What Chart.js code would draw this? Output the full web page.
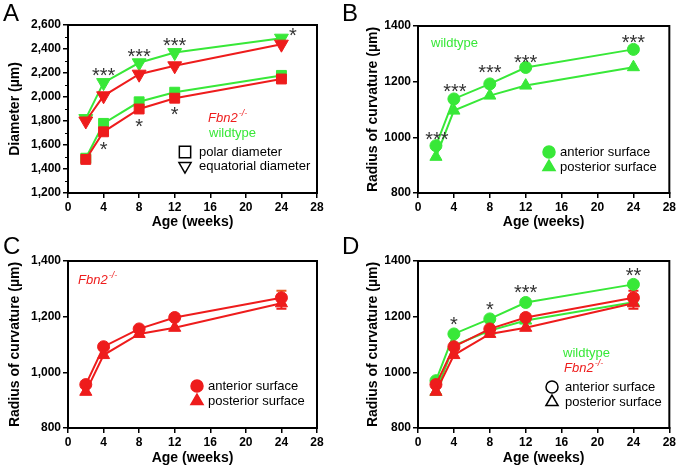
<!DOCTYPE html>
<html lang="en">
<head>
    <meta charset="UTF-8">
    <title>Diameter and radius of curvature</title>
    <style>
        body { margin: 0; background: #fff; }
        .panel { position: absolute; }
        .lbl {
            position: absolute;
            font-family: "Liberation Sans", Arial, sans-serif;
            font-size: 24px;
            color: #000;
        }
    </style>
</head>
<body>
    <div class="panel" style="left:0;top:0;width:339px;height:235px"><canvas id="chartA"></canvas></div>
    <div class="panel" style="left:339px;top:0;width:339px;height:235px"><canvas id="chartB"></canvas></div>
    <div class="panel" style="left:0;top:235px;width:339px;height:236px"><canvas id="chartC"></canvas></div>
    <div class="panel" style="left:339px;top:235px;width:339px;height:236px"><canvas id="chartD"></canvas></div>
    <div class="lbl" style="left:3px;top:-1px">A</div>
    <div class="lbl" style="left:342px;top:-1px">B</div>
    <div class="lbl" style="left:3px;top:232px">C</div>
    <div class="lbl" style="left:342px;top:232px">D</div>

    <script src="https://cdn.jsdelivr.net/npm/chart.js"></script>
    <script>
        // ages in weeks
        const weeks = [2, 4, 8, 12, 24];

        // panel A: diameters (um)
        const polarWT = [1490, 1780, 1960, 2040, 2180];
        const polarKO = [1480, 1710, 1900, 1990, 2150];
        const equatWT = [1820, 2120, 2285, 2370, 2490];
        const equatKO = [1800, 2010, 2190, 2260, 2440];

        // panels B-D: radius of curvature (um)
        const anteriorWT = [970, 1138, 1192, 1251, 1316];
        const posteriorWT = [930, 1096, 1150, 1186, 1252];
        const anteriorKO = [956, 1092, 1156, 1197, 1268];
        const posteriorKO = [930, 1062, 1138, 1160, 1248];
        const anteriorKOerr = [0, 0, 0, 0, 25];
        const posteriorKOerr = [0, 0, 0, 0, 20];

        const xTicks = [0, 4, 8, 12, 16, 20, 24, 28];

        // significance marks (x in weeks, y in data units)
        const starsA = [
            { x: 4, y: 2210, t: '***' }, { x: 8, y: 2375, t: '***' },
            { x: 12, y: 2460, t: '***' }, { x: 25.3, y: 2545, t: '*' },
            { x: 4, y: 1600, t: '*' }, { x: 8, y: 1790, t: '*' }, { x: 12, y: 1890, t: '*' }
        ];
        const starsB = [
            { x: 2.1, y: 1008, t: '***' }, { x: 4.1, y: 1179, t: '***' },
            { x: 8, y: 1247, t: '***' }, { x: 12, y: 1284, t: '***' }, { x: 24, y: 1356, t: '***' }
        ];
        const starsD = [
            { x: 4, y: 1188, t: '*' }, { x: 8, y: 1241, t: '*' },
            { x: 12, y: 1302, t: '***' }, { x: 24, y: 1364, t: '**' }
        ];

        const GREEN = '#38e838';
        const RED = '#ee1c1c';
        const FONT = '"Liberation Sans", Arial, sans-serif';

        const pts = (ys) => weeks.map((w, i) => ({ x: w, y: ys[i] }));

        function series(ys, color, style, radius, rotation) {
            return {
                data: pts(ys),
                borderColor: color,
                backgroundColor: color,
                borderWidth: 2,
                pointStyle: style,
                pointRadius: radius,
                pointRotation: rotation || 0,
                pointBorderWidth: 1,
                pointBorderColor: color,
                pointBackgroundColor: color,
                tension: 0
            };
        }

        // box around plot area + optional minor ticks
        const framePlugin = {
            id: 'frame',
            afterDraw(chart) {
                const { ctx, chartArea: a } = chart;
                ctx.save();
                ctx.strokeStyle = '#000';
                ctx.lineWidth = 2;
                ctx.strokeRect(a.left, a.top, a.right - a.left, a.bottom - a.top);
                const minor = chart.config.options.minorStep;
                if (minor) {
                    const ys = chart.scales.y;
                    ctx.lineWidth = 1;
                    for (let v = ys.min + minor; v < ys.max; v += 2 * minor) {
                        const py = Math.round(ys.getPixelForValue(v)) + 0.5;
                        ctx.beginPath();
                        ctx.moveTo(a.left - 3, py);
                        ctx.lineTo(a.left, py);
                        ctx.stroke();
                    }
                }
                ctx.restore();
            }
        };

        function errPlugin(list) {
            return {
                id: 'errs',
                beforeDatasetsDraw(chart) {
                    const { ctx } = chart;
                    const xs = chart.scales.x, ys = chart.scales.y;
                    ctx.save();
                    list.forEach(e => {
                        ctx.strokeStyle = e.color;
                        ctx.lineWidth = 2;
                        e.vals.forEach((v, i) => {
                            if (!e.err[i]) return;
                            const px = xs.getPixelForValue(weeks[i]);
                            const top = ys.getPixelForValue(v + e.err[i]);
                            const bot = ys.getPixelForValue(v - e.err[i]);
                            ctx.beginPath();
                            ctx.moveTo(px, top); ctx.lineTo(px, bot);
                            ctx.moveTo(px - 5, top); ctx.lineTo(px + 5, top);
                            ctx.moveTo(px - 5, bot); ctx.lineTo(px + 5, bot);
                            ctx.stroke();
                        });
                    });
                    ctx.restore();
                }
            };
        }

        // stars (data coords) and legend items (canvas pixels)
        function notesPlugin(stars, legend) {
            return {
                id: 'notes',
                afterDraw(chart) {
                    const { ctx } = chart;
                    const xs = chart.scales.x, ys = chart.scales.y;
                    ctx.save();
                    ctx.fillStyle = '#333';
                    ctx.font = '20px ' + FONT;
                    ctx.textAlign = 'center';
                    ctx.textBaseline = 'middle';
                    stars.forEach(s => {
                        ctx.fillText(s.t, xs.getPixelForValue(s.x), ys.getPixelForValue(s.y) + 5);
                    });
                    ctx.textAlign = 'left';
                    legend.forEach(l => {
                        if (l.sym) {
                            ctx.fillStyle = l.fill || 'rgba(0,0,0,0)';
                            ctx.strokeStyle = l.stroke || '#000';
                            ctx.lineWidth = 1.5;
                            Chart.helpers.drawPoint(ctx, {
                                pointStyle: l.sym, radius: l.r || 6, rotation: l.rot || 0,
                                borderWidth: 1.5
                            }, l.sx, l.y);
                        }
                        ctx.fillStyle = l.color || '#000';
                        if (l.fbn) {
                            ctx.font = 'italic 13px ' + FONT;
                            ctx.fillText('Fbn2', l.x, l.y);
                            const w = ctx.measureText('Fbn2').width;
                            ctx.font = 'italic 9px ' + FONT;
                            ctx.fillText('-/-', l.x + w + 1, l.y - 5);
                        } else {
                            ctx.font = '13px ' + FONT;
                            ctx.fillText(l.text, l.x, l.y);
                        }
                    });
                    ctx.restore();
                }
            };
        }

        function makeChart(id, opt) {
            return new Chart(document.getElementById(id), {
                type: 'line',
                data: { datasets: opt.datasets },
                options: {
                    responsive: true,
                    maintainAspectRatio: false,
                    animation: false,
                    minorStep: opt.minorStep,
                    layout: { padding: { left: opt.padLeft, right: opt.padRight, top: opt.padTop, bottom: 0 } },
                    plugins: { legend: { display: false }, tooltip: { enabled: false } },
                    scales: {
                        x: {
                            type: 'linear',
                            min: 0, max: 28,
                            afterBuildTicks: s => { s.ticks = xTicks.map(v => ({ value: v })); },
                            afterFit: s => { s.height = opt.xHeight; },
                            ticks: { color: '#000', font: { family: FONT, size: 12, weight: 'bold' }, padding: 2, maxRotation: 0 },
                            grid: { drawOnChartArea: false, drawTicks: true, tickLength: 5, color: '#000', lineWidth: 1.5 },
                            border: { display: true, color: '#000', width: 2 },
                            title: { display: true, text: 'Age (weeks)', color: '#000', font: { family: FONT, size: 14, weight: 'bold' }, padding: { top: 2 } }
                        },
                        y: {
                            min: opt.yMin, max: opt.yMax,
                            afterBuildTicks: s => { s.ticks = opt.yTicks.map(v => ({ value: v })); },
                            afterFit: s => { s.width = opt.yWidth; },
                            ticks: {
                                color: '#000', font: { family: FONT, size: 12, weight: 'bold' }, padding: 2,
                                callback: v => opt.comma ? v.toLocaleString('en-US') : String(v)
                            },
                            grid: { drawOnChartArea: false, drawTicks: true, tickLength: 5, color: '#000', lineWidth: 1.5 },
                            border: { display: true, color: '#000', width: 2 },
                            title: { display: true, text: opt.yTitle, color: '#000', font: { family: FONT, size: 14, weight: 'bold' }, padding: { bottom: 2 } }
                        }
                    }
                },
                plugins: [framePlugin, errPlugin(opt.errs || []), notesPlugin(opt.stars, opt.legend)]
            });
        }

        const ticksDiam = [1200, 1400, 1600, 1800, 2000, 2200, 2400, 2600];
        const ticksRad = [800, 1000, 1200, 1400];

        makeChart('chartA', {
            datasets: [
                series(polarKO, RED, 'rect', 7),
                series(polarWT, GREEN, 'rect', 7),
                series(equatKO, RED, 'triangle', 8, 180),
                series(equatWT, GREEN, 'triangle', 8, 180)
            ],
            yMin: 1200, yMax: 2600, yTicks: ticksDiam, comma: true, minorStep: 100,
            yTitle: 'Diameter (\u00b5m)', padLeft: 3, yWidth: 65, padRight: 22, padTop: 25, xHeight: 42,
            stars: starsA,
            legend: [
                { fbn: true, color: RED, x: 208, y: 118 },
                { text: 'wildtype', color: GREEN, x: 209, y: 133 },
                { text: 'polar diameter', x: 199, y: 152, sym: 'rect', sx: 185, r: 8 },
                { text: 'equatorial diameter', x: 199, y: 166, sym: 'triangle', rot: 180, sx: 185, r: 7 }
            ]
        });

        makeChart('chartB', {
            datasets: [
                series(posteriorWT, GREEN, 'triangle', 7),
                series(anteriorWT, GREEN, 'circle', 6)
            ],
            yMin: 800, yMax: 1400, yTicks: ticksRad, comma: false,
            yTitle: 'Radius of curvature (\u00b5m)', padLeft: 22, yWidth: 57, padRight: 8, padTop: 26, xHeight: 42,
            stars: starsB,
            legend: [
                { text: 'wildtype', color: GREEN, x: 92, y: 43 },
                { text: 'anterior surface', x: 221, y: 152, sym: 'circle', sx: 210, r: 6, fill: GREEN, stroke: GREEN },
                { text: 'posterior surface', x: 221, y: 167, sym: 'triangle', sx: 210, r: 7, fill: GREEN, stroke: GREEN }
            ]
        });

        makeChart('chartC', {
            datasets: [
                series(posteriorKO, RED, 'triangle', 7),
                series(anteriorKO, RED, 'circle', 6)
            ],
            errs: [
                { vals: anteriorKO, err: anteriorKOerr, color: '#e85a1c' },
                { vals: posteriorKO, err: posteriorKOerr, color: RED }
            ],
            yMin: 800, yMax: 1400, yTicks: ticksRad, comma: true,
            yTitle: 'Radius of curvature (\u00b5m)', padLeft: 3, yWidth: 65, padRight: 22, padTop: 26, xHeight: 43,
            stars: [],
            legend: [
                { fbn: true, color: RED, x: 78, y: 45 },
                { text: 'anterior surface', x: 208, y: 151, sym: 'circle', sx: 197, r: 6, fill: RED, stroke: RED },
                { text: 'posterior surface', x: 208, y: 166, sym: 'triangle', sx: 197, r: 7, fill: RED, stroke: RED }
            ]
        });

        makeChart('chartD', {
            datasets: [
                series(posteriorKO, RED, 'triangle', 7),
                series(anteriorKO, RED, 'circle', 6),
                series(posteriorWT, GREEN, 'triangle', 7),
                series(anteriorWT, GREEN, 'circle', 6)
            ],
            errs: [
                { vals: anteriorKO, err: anteriorKOerr, color: RED },
                { vals: posteriorKO, err: posteriorKOerr, color: RED }
            ],
            yMin: 800, yMax: 1400, yTicks: ticksRad, comma: false,
            yTitle: 'Radius of curvature (\u00b5m)', padLeft: 22, yWidth: 57, padRight: 8, padTop: 26, xHeight: 43,
            stars: starsD,
            legend: [
                { text: 'wildtype', color: GREEN, x: 224, y: 118 },
                { fbn: true, color: RED, x: 225, y: 133 },
                { text: 'anterior surface', x: 226, y: 152, sym: 'circle', sx: 213, r: 6 },
                { text: 'posterior surface', x: 226, y: 167, sym: 'triangle', sx: 213, r: 7 }
            ]
        });
    </script>
</body>
</html>
